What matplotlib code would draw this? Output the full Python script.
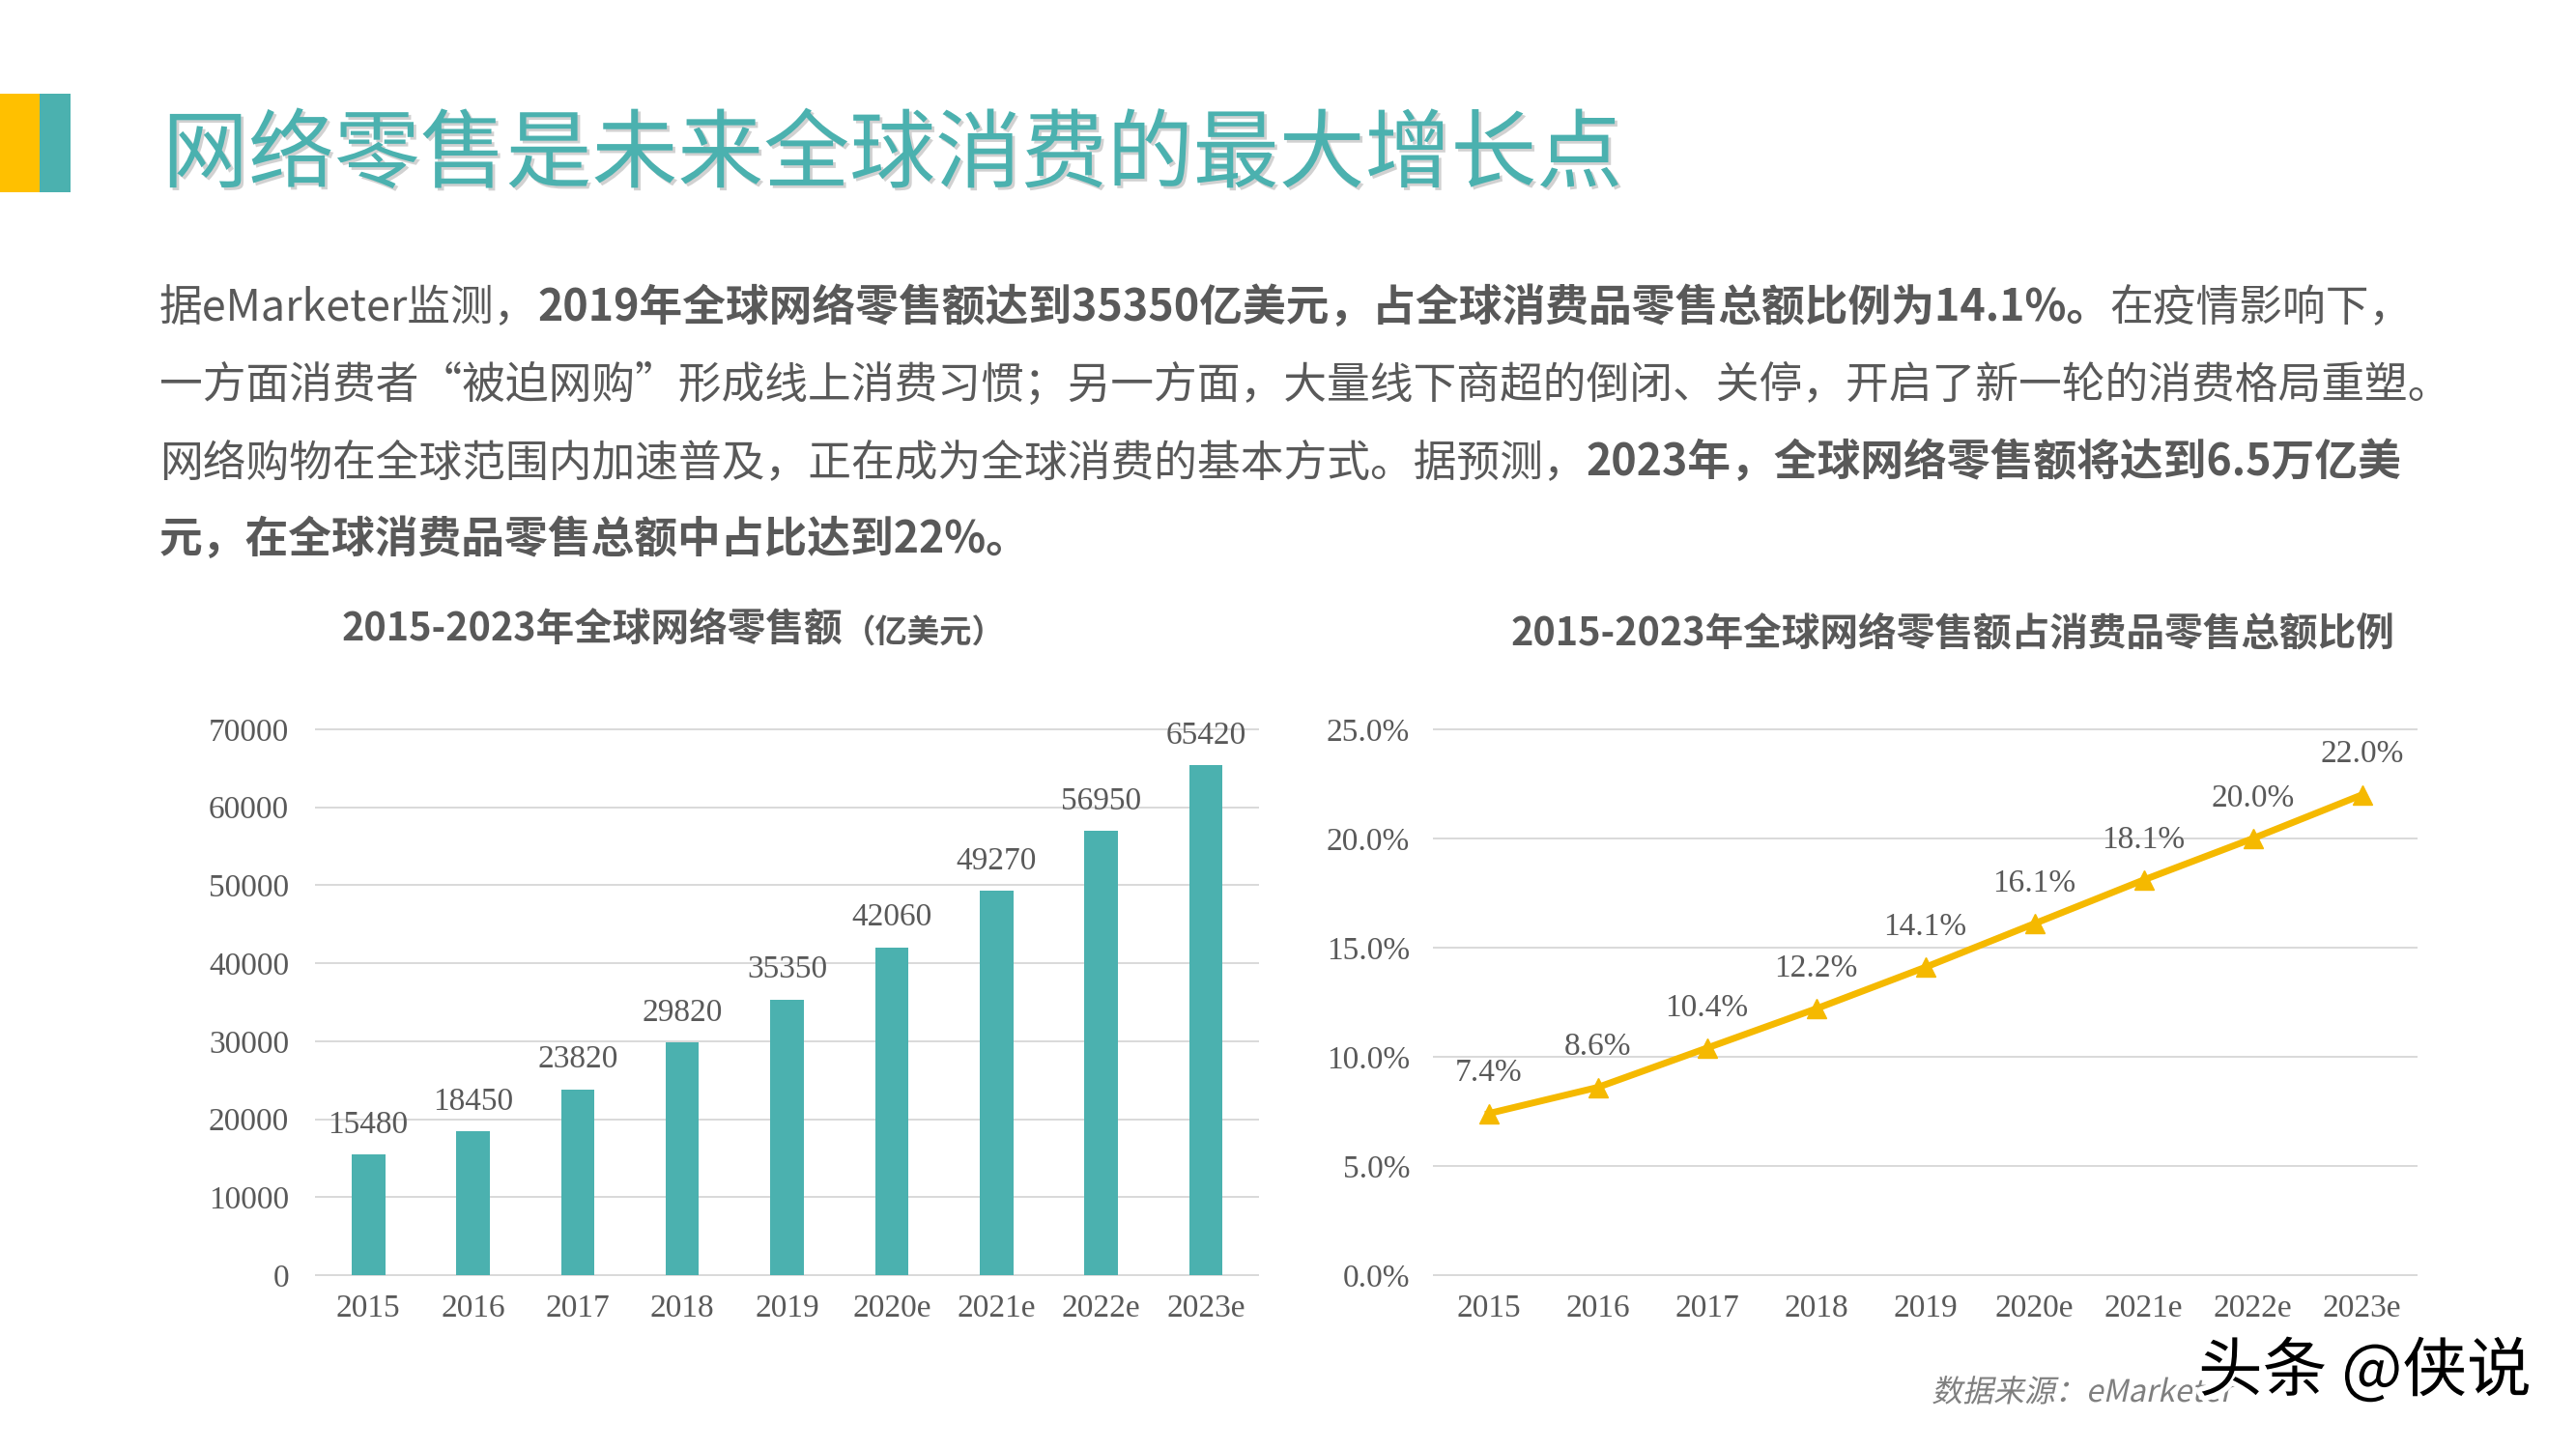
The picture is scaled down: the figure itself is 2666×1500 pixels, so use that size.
import matplotlib
matplotlib.use('Agg')
import matplotlib.pyplot as plt
import matplotlib.patheffects as pe
from matplotlib.patches import Rectangle
from matplotlib.transforms import Affine2D

# data
years = ['2015', '2016', '2017', '2018', '2019', '2020e', '2021e', '2022e', '2023e']
sales = [15480, 18450, 23820, 29820, 35350, 42060, 49270, 56950, 65420]   # 亿美元
share = [7.4, 8.6, 10.4, 12.2, 14.1, 16.1, 18.1, 20.0, 22.0]              # %
sales_ticks = [0, 10000, 20000, 30000, 40000, 50000, 60000, 70000]
share_ticks = [0, 5, 10, 15, 20, 25]

title = '网络零售是未来全球消费的最大增长点'
# paragraph: list of lines, each a list of (text, bold)
para = [
    [('据eMarketer监测，', False),
     ('2019年全球网络零售额达到35350亿美元，占全球消费品零售总额比例为14.1%。', True),
     ('在疫情影响下，', False)],
    [('一方面消费者“被迫网购”形成线上消费习惯；另一方面，大量线下商超的倒闭、关停，开启了新一轮的消费格局重塑。', False)],
    [('网络购物在全球范围内加速普及，正在成为全球消费的基本方式。据预测，', False),
     ('2023年，全球网络零售额将达到6.5万亿美', True)],
    [('元，在全球消费品零售总额中占比达到22%。', True)],
]

TEAL = '#4BB1AF'
GOLD = '#F5B900'
YELLOW = '#FFC000'
GRAY = '#595959'
GRID = '#D9D9D9'
CJK = ['Noto Sans CJK SC', 'DejaVu Sans']
SERIF = 'Liberation Serif'

W, H = 2666, 1500
fig = plt.figure(figsize=(W / 100, H / 100), dpi=100)


def fx(px):
    return px / W


def fy(py):
    return 1 - py / H


class Slant(pe.AbstractPathEffect):
    # fake italic: shear the glyph paths around a horizontal line y0 (pixels)
    def __init__(self, y0, deg=12):
        super().__init__()
        self.y0 = y0
        self.deg = deg

    def draw_path(self, renderer, gc, tpath, affine, rgbFace=None):
        shear = Affine2D().translate(0, -self.y0).skew_deg(self.deg, 0).translate(0, self.y0)
        renderer.draw_path(gc, tpath, affine + shear, rgbFace)


# left decoration bars
fig.add_artist(Rectangle((0, fy(199)), fx(41), 102 / H, transform=fig.transFigure,
                         color=YELLOW, lw=0))
fig.add_artist(Rectangle((fx(41), fy(199)), fx(32), 102 / H, transform=fig.transFigure,
                         color=TEAL, lw=0))

# main title
fig.text(fx(168), fy(162), title, fontsize=64, color=TEAL, va='center', family=CJK,
         path_effects=[pe.SimplePatchShadow(offset=(2, -2), shadow_rgbFace='#9a9a9a', alpha=0.45),
                       pe.Normal()])

# paragraph, bold and regular pieces chained on each line
line_y = [316, 396, 476, 556]
for segs, yc in zip(para, line_y):
    last = None
    for txt, bold in segs:
        kw = dict(fontsize=32.2, color=GRAY, family=CJK, weight='bold' if bold else 'normal',
                  va='bottom', ha='left')
        if last is None:
            last = fig.text(fx(165), fy(yc + 26), txt, **kw)
        else:
            last = fig.add_artist(plt.Annotation(txt, xy=(1, 0), xycoords=last, **kw))

# chart titles
t1 = fig.text(fx(354), fy(651), '2015-2023年全球网络零售额', fontsize=28.5, weight='bold',
              color=GRAY, family=CJK, va='center')
fig.add_artist(plt.Annotation('（亿美元）', xy=(1, 0), xycoords=t1, fontsize=24, weight='bold',
                              color=GRAY, family=CJK, va='bottom', ha='left'))
fig.text(fx(1564), fy(656), '2015-2023年全球网络零售额占消费品零售总额比例', fontsize=28.5,
         weight='bold', color=GRAY, family=CJK, va='center')


def style_axes(ax, ypad):
    for s in ax.spines.values():
        s.set_visible(False)
    ax.grid(axis='y', color=GRID, lw=1.4)
    ax.set_axisbelow(True)
    for gl in ax.get_ygridlines():
        gl.set_clip_on(False)
    ax.tick_params(axis='both', length=0, labelsize=24, labelcolor=GRAY)
    ax.tick_params(axis='y', pad=ypad)
    ax.tick_params(axis='x', pad=14)
    for lbl in ax.get_xticklabels() + ax.get_yticklabels():
        lbl.set_fontfamily(SERIF)


# left: bar chart of sales
ax1 = fig.add_axes([fx(327), fy(1320), fx(975), 565 / H])
bars = ax1.bar(range(len(years)), sales, width=0.32, color=TEAL, zorder=3)
ax1.set_xlim(-0.5, len(years) - 0.5)
ax1.set_ylim(0, 70000)
ax1.set_yticks(sales_ticks)
ax1.set_xticks(range(len(years)), years)
style_axes(ax1, 20)
ax1.bar_label(bars, labels=[str(v) for v in sales], padding=11, fontsize=24, color=GRAY,
              family=SERIF)

# right: line chart of share
ax2 = fig.add_axes([fx(1484), fy(1320), fx(1017), 565 / H])
ax2.plot(range(len(years)), share, color=GOLD, lw=5, marker='^', ms=15, zorder=3)
ax2.set_xlim(-0.5, len(years) - 0.5)
ax2.set_ylim(0, 25)
ax2.set_yticks(share_ticks, [f'{t:.1f}%' for t in share_ticks])
ax2.set_xticks(range(len(years)), years)
style_axes(ax2, 18)
for i, v in enumerate(share):
    ax2.annotate(f'{v:.1f}%', (i, v), xytext=(0, 30), textcoords='offset points',
                 ha='center', va='center', fontsize=24, color=GRAY, family=SERIF)

# source and watermark
fig.text(fx(2001), fy(1442), '数据来源：eMarketer', fontsize=23, color='#7F7F7F',
         family=CJK, va='center', path_effects=[Slant(H - 1442)])
fig.text(fx(2275), fy(1421), '头条 @侠说', fontsize=48, color='black', family=CJK,
         va='center', path_effects=[pe.withStroke(linewidth=8, foreground='white')])

fig.savefig('out.png', dpi=100)
